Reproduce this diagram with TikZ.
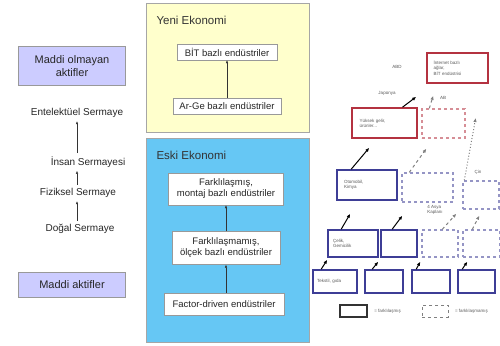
\documentclass[tikz,border=0pt]{standalone}
\usepackage{fontspec}
\setmainfont{Liberation Sans}
\usepackage{xcolor}
\usetikzlibrary{positioning, arrows.meta}
\definecolor{lilac}{RGB}{204,204,255}
\definecolor{paleyellow}{RGB}{255,255,204}
\definecolor{skyblue}{RGB}{102,199,244}
\definecolor{boxred}{RGB}{180,50,64}
\definecolor{boxblue}{RGB}{62,62,150}

\begin{document}
\begin{tikzpicture}[x=1pt, y=-1pt,
  asset/.style={draw=gray!80, fill=lilac, align=center, inner sep=0pt, text=black!85, font=\fontsize{11}{12.5}\selectfont},
  capital/.style={text=black!85, font=\fontsize{10}{12}\selectfont},
  industry/.style={draw=gray!80, fill=white, align=center, inner sep=0pt, text=black!85, font=\fontsize{9.5}{11}\selectfont},
  econ/.style={draw=gray!70, inner sep=0pt},
  econtitle/.style={anchor=west, text=black!80, font=\fontsize{11.5}{13}\selectfont},
  uparrow/.style={-{Latex[length=3pt,width=2.5pt]}, black!80},
  smalltxt/.style={text=black!65, align=left, font=\fontsize{4.5}{5.2}\selectfont},
  redbox/.style={draw=boxred, line width=1.6pt, inner sep=0pt},
  reddash/.style={draw=boxred!55, line width=1.4pt, dashed, inner sep=0pt},
  bluebox/.style={draw=boxblue, line width=1.6pt, inner sep=0pt},
  bluedash/.style={draw=boxblue!55, line width=1.4pt, dashed, inner sep=0pt},
  catchup/.style={-{Latex[length=4pt,width=3.5pt]}, line width=1pt},
  catchdash/.style={catchup, gray, dashed},
]
\useasboundingbox (0,0) rectangle (500,345);

% Assets and capital
\node[asset, minimum width=107pt, minimum height=39pt] (intangible) at (72,66) {Maddi olmayan\\aktifler};
\node[asset, minimum width=107pt, minimum height=25pt] (tangible) at (72,285) {Maddi aktifler};
\node[capital] (intel) at (77,113) {Entelektüel Sermaye};
\node[capital] (human) at (88,162) {İnsan Sermayesi};
\node[capital] (physical) at (78,193) {Fiziksel Sermaye};
\node[capital] (natural) at (80,229) {Doğal Sermaye};
\draw[uparrow] (human.north -| intel) -- (intel.south);
\draw[uparrow] (physical.north -| intel) -- (human.south -| intel);
\draw[uparrow] (natural.north -| intel) -- (physical.south -| intel);

% New economy
\node[econ, fill=paleyellow, minimum width=163pt, minimum height=129pt] (newecon) at (227.5,67.5) {};
\node[econtitle] (newtitle) at (153,20) {Yeni Ekonomi};
\node[industry, minimum width=100pt, minimum height=16pt] (ict) at (227,52) {BİT bazlı endüstriler};
\node[industry, minimum width=108pt, minimum height=16pt] (rnd) at (227,106) {Ar-Ge bazlı endüstriler};
\draw[uparrow] (rnd) -- (ict);

% Old economy
\node[econ, fill=skyblue, minimum width=163pt, minimum height=204pt] (oldecon) at (227.5,240) {};
\node[econtitle] (oldtitle) at (153,155) {Eski Ekonomi};
\node[industry, minimum width=115pt, minimum height=32pt] (assembly) at (226,189) {Farklılaşmış,\\montaj bazlı endüstriler};
\node[industry, minimum width=108pt, minimum height=33pt] (scale) at (226,248) {Farklılaşmamış,\\ölçek bazlı endüstriler};
\node[industry, minimum width=120pt, minimum height=22pt] (factor) at (224,304) {Factor-driven endüstriler};
\draw[uparrow] (factor.north -| scale) -- (scale);
\draw[uparrow] (scale) -- (assembly);

% Countries
\node[redbox, smalltxt, minimum width=61pt, minimum height=30pt, text width=48pt] (internet) at (457.5,68) {İnternet bazlı\\ağlar,\\BİT endüstrisi};
\node[redbox, smalltxt, minimum width=65pt, minimum height=30pt, text width=50pt] (r1a) at (384.5,123) {Yüksek gelir,\\ürünler...};
\node[reddash, minimum width=43pt, minimum height=29pt] (r1b) at (443.5,123.5) {};
\node[bluebox, smalltxt, minimum width=60pt, minimum height=30pt, text width=46pt] (r2a) at (367,185) {Otomobil,\\Kimya};
\node[bluedash, minimum width=51pt, minimum height=29pt] (r2b) at (427.5,187.5) {};
\node[bluedash, minimum width=36pt, minimum height=28pt] (r2c) at (481,195) {};
\node[bluebox, smalltxt, minimum width=50pt, minimum height=27pt, text width=40pt] (r3a) at (353,243.5) {Çelik,\\Gemicilik};
\node[bluebox, minimum width=36pt, minimum height=27pt] (r3b) at (399,243.5) {};
\node[bluedash, minimum width=36pt, minimum height=27pt] (r3c) at (440,243.5) {};
\node[bluedash, minimum width=37pt, minimum height=27pt] (r3d) at (481.5,243.5) {};
\node[bluebox, smalltxt, minimum width=44pt, minimum height=23pt, text width=36pt] (r4a) at (335,281.5) {Tekstil, gıda};
\node[bluebox, minimum width=38pt, minimum height=23pt] (r4b) at (384,281.5) {};
\node[bluebox, minimum width=38pt, minimum height=23pt] (r4c) at (431,281.5) {};
\node[bluebox, minimum width=37pt, minimum height=23pt] (r4d) at (476.5,281.5) {};

\node[smalltxt] (usa) at (397,67) {ABD};
\node[smalltxt] (japan) at (387,93) {Japonya};
\node[smalltxt] (eu) at (443,98) {AB};
\node[smalltxt] (china) at (478,172) {Çin};
\node[smalltxt] (tigers) at (435,210) {4 Asya\\Kaplanı};

\draw[catchup] ([xshift=18pt]r1a.north) -- ([shift={(-10,13)}]internet.south west);
\draw[catchdash] ([xshift=8pt]r1b.north west) -- ([shift={(7,12)}]internet.south west);
\draw[catchup] ([xshift=15pt]r2a.north west) -- ([shift={(18,9)}]r1a.south west);
\draw[catchdash] ([xshift=8pt]r2b.north west) -- ([shift={(5,10)}]r1b.south west);
\draw[catchup, gray, dotted] ([xshift=2pt]r2c.north west) -- ([shift={(10,-5.5)}]r1b.east);
\draw[catchup] ([xshift=14pt]r3a.north west) -- ([shift={(14,13)}]r2a.south west);
\draw[catchup] ([xshift=12pt]r3b.north west) -- ([shift={(1,13)}]r2b.south west);
\draw[catchdash] ([xshift=21pt]r3c.north west) -- ([shift={(-6,4)}]r2c.south west);
\draw[catchdash] ([xshift=10pt]r3d.north west) -- ([shift={(17,6)}]r2c.south west);
\draw[catchup] ([xshift=9pt]r4a.north west) -- ([shift={(0,2)}]r3a.south west);
\draw[catchup] ([xshift=8pt]r4b.north west) -- ([shift={(-2,4)}]r3b.south west);
\draw[catchup] ([xshift=5pt]r4c.north west) -- ([shift={(-1,4)}]r3c.south west);
\draw[catchup] ([xshift=5pt]r4d.north west) -- ([shift={(5,4)}]r3d.south west);

% Key
\node[draw=black!80, line width=1.6pt, minimum width=27pt, minimum height=12pt] (keysolid) at (353.5,311) {};
\node[smalltxt, right=3pt of keysolid] (keysolidtxt) {= farklılaşmış};
\node[draw=gray, line width=1pt, dashed, minimum width=26pt, minimum height=12pt] (keydash) at (435,311) {};
\node[smalltxt, right=3pt of keydash] (keydashtxt) {= farklılaşmamış};
\end{tikzpicture}
\end{document}
